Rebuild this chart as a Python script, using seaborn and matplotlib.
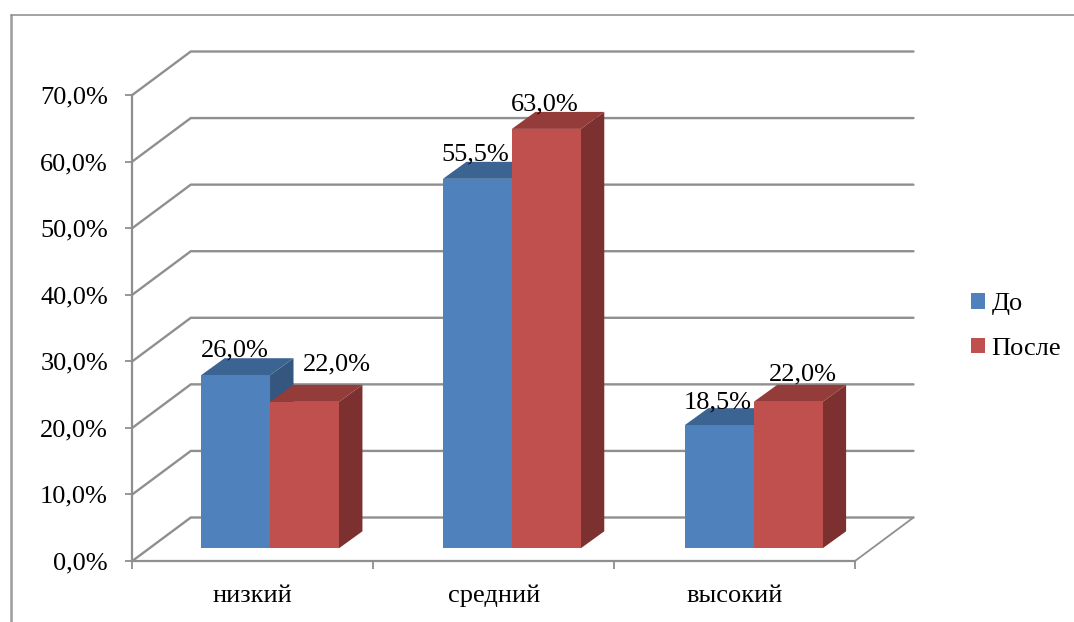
import pandas as pd
import seaborn as sns
import matplotlib.pyplot as plt
from matplotlib.lines import Line2D
from matplotlib.patches import Polygon

# данные
levels = ['низкий', 'средний', 'высокий']
before = [26.0, 55.5, 18.5]
after = [22.0, 63.0, 22.0]
series = ['До', 'После']
y_ticks = [0, 10, 20, 30, 40, 50, 60, 70]

W, H = 1074, 622
GRID = '#8f8f8f'
FACE = {'До': '#4f81bd', 'После': '#c0504d'}
TOP = {'До': '#3c6493', 'После': '#943c3a'}
SIDE = {'До': '#34567f', 'После': '#7c302f'}
# сдвиг подписей значений, px от центра верха столбца
LABEL_OFFSET = {'До': [(-1, 25), (-2, 24), (-2, 23)], 'После': [(32, 37), (-2, 24), (15, 27)]}

df = pd.DataFrame({
    'level': levels * 2,
    'value': before + after,
    'series': [series[0]] * 3 + [series[1]] * 3,
})

sns.set_theme(style='white')
plt.rcParams['font.family'] = ['Liberation Serif', 'DejaVu Serif']
plt.rcParams['font.size'] = 19


def box(left, right, top, bottom):
    return [left / W, 1 - bottom / H, (right - left) / W, (bottom - top) / H]


fig = plt.figure(figsize=(W / 100, H / 100), dpi=100, facecolor='white')

# передняя плоскость: оси и сетка
ax = fig.add_axes(box(132.3, 855, 95, 561))
ax.set_xlim(-0.5, 2.5)
ax.set_ylim(0, 70)
ax.patch.set_alpha(0)
sns.despine(ax=ax, top=True, right=True)
for s in ['left', 'bottom']:
    ax.spines[s].set_color(GRID)
    ax.spines[s].set_linewidth(1.6)

wall_dx = 58.5 / (722.7 / 3)
wall_dy = 43.5 / (466 / 70)
for y in y_ticks:
    ax.plot([-0.5, -0.5 + wall_dx, 2.5 + wall_dx], [y, y + wall_dy, y + wall_dy],
            color=GRID, lw=1.7, clip_on=False, zorder=1, solid_joinstyle='miter')
ax.plot([2.5, 2.5 + wall_dx], [0, wall_dy], color=GRID, lw=1.3, clip_on=False, zorder=1)

ax.set_yticks(y_ticks)
ax.set_yticklabels([f'{t:.1f}%'.replace('.', ',') for t in y_ticks], fontsize=19, color='black')
ax.tick_params(axis='y', length=5, width=1.3, color=GRID, pad=12.5, left=True)
ax.set_xticks([-0.5, 0.5, 1.5, 2.5])
ax.set_xticklabels([])
ax.tick_params(axis='x', which='major', length=5.5, width=1.3, color=GRID, bottom=True)
ax.set_xticks([0, 1, 2], minor=True)
ax.set_xticklabels(levels, minor=True, fontsize=19, color='black')
ax.tick_params(axis='x', which='minor', length=0, pad=17, bottom=True)
ax.set_xlabel('')
ax.set_ylabel('')

# столбцы стоят на полу, поэтому у них своя система координат
ax_bars = fig.add_axes(box(149.1, 874.6, 82.3, 548.3))
sns.barplot(data=df, x='level', y='value', hue='series', order=levels, hue_order=series,
            palette=FACE, width=0.57, gap=0, saturation=1, linewidth=0, ax=ax_bars)
ax_bars.set_xlim(-0.5, 2.5)
ax_bars.set_ylim(0, 70)
ax_bars.axis('off')
ax_bars.patch.set_alpha(0)

dx = 23.5 / (725.5 / 3)
dy = 17 / (466 / 70)
handles, labels = ax_bars.get_legend_handles_labels()
ax_bars.get_legend().remove()

for i, (name, cont) in enumerate(zip(series, ax_bars.containers)):
    z = 3 + i * 3
    for j, bar in enumerate(cont):
        x0, x1 = bar.get_x(), bar.get_x() + bar.get_width()
        h = bar.get_height()
        bar.set_zorder(z + 1)
        ax_bars.add_patch(Polygon([(x1, 0), (x1 + dx, dy), (x1 + dx, h + dy), (x1, h)],
                                  facecolor=SIDE[name], lw=0, clip_on=False, zorder=z))
        ax_bars.add_patch(Polygon([(x0, h), (x0 + dx, h + dy), (x1 + dx, h + dy), (x1, h)],
                                  facecolor=TOP[name], lw=0, clip_on=False, zorder=z))
        off = LABEL_OFFSET[name][j]
        ax_bars.annotate(f'{h:.1f}%'.replace('.', ','), ((x0 + x1) / 2, h),
                         xytext=(off[0] * 0.72, off[1] * 0.72), textcoords='offset points',
                         ha='center', va='center', fontsize=19, color='black',
                         annotation_clip=False, zorder=20)

# легенда
fig.legend(handles, labels, loc='center left', bbox_to_anchor=(971 / W, 1 - 326.5 / H),
           frameon=False, fontsize=19, borderpad=0, borderaxespad=0, handlelength=0.53,
           handleheight=0.53, handletextpad=0.25, labelspacing=0.85, labelcolor='black')

# рамка области диаграммы
fig.add_artist(Line2D([10.5 / W, 10.5 / W], [0, 1 - 14.5 / H], color='#a0a0a0', lw=1.9))
fig.add_artist(Line2D([10.5 / W, 1], [1 - 14.5 / H, 1 - 14.5 / H], color='#8a8a8a', lw=1.1))

plt.savefig('out.png', dpi=100)
plt.close()
